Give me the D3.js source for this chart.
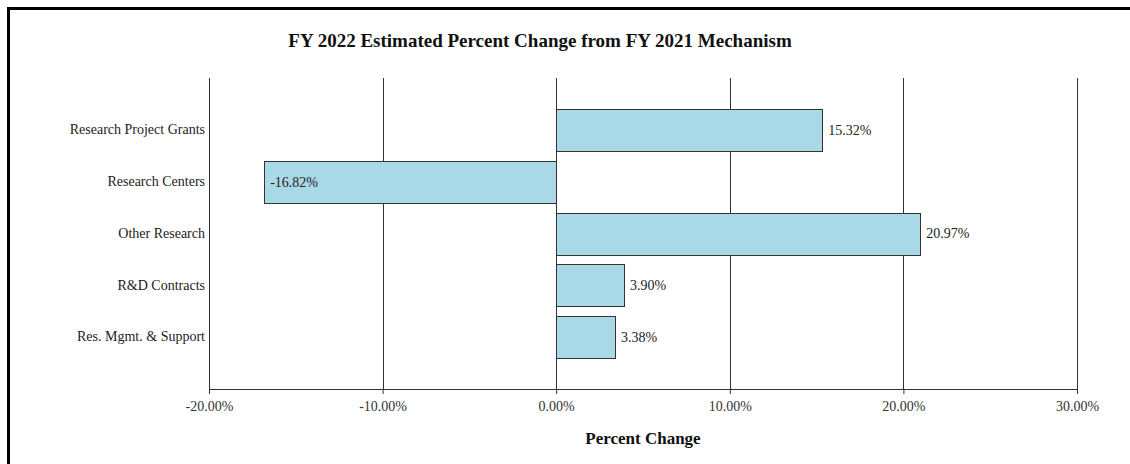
<!DOCTYPE html>
<html>
<head>
<meta charset="utf-8">
<script src="https://cdn.jsdelivr.net/npm/d3@7"></script>
<style>
  html, body { margin: 0; padding: 0; background: #fff; }
  svg { display: block; }
</style>
</head>
<body>
<svg id="chart" width="1130" height="464"></svg>
<script>
const categories = ["Research Project Grants", "Research Centers", "Other Research", "R&D Contracts", "Res. Mgmt. & Support"];
const values = [15.32, -16.82, 20.97, 3.90, 3.38];
const tickValues = [-20, -10, 0, 10, 20, 30];
const title = "FY 2022 Estimated Percent Change from FY 2021 Mechanism";
const xTitle = "Percent Change";

const svg = d3.select("#chart");
const W = 1130, H = 464;
const m = { left: 209, right: 1077, top: 78, bottom: 389 };
const font = "'Liberation Serif', 'Times New Roman', serif";

svg.append("rect").attr("x", 0).attr("y", 0).attr("width", W).attr("height", H).attr("fill", "#fff");
svg.append("line").attr("x1", 7).attr("x2", W).attr("y1", 8.5).attr("y2", 8.5).attr("stroke", "#000").attr("stroke-width", 3);
svg.append("line").attr("x1", 8.5).attr("x2", 8.5).attr("y1", 7).attr("y2", H).attr("stroke", "#000").attr("stroke-width", 3);

const x = d3.scaleLinear().domain([-20, 30]).range([m.left, m.right]);
const y = d3.scaleBand().domain(categories).range([m.top, m.bottom]).paddingInner(0.19).paddingOuter(0.6);

svg.append("g").selectAll("line").data(tickValues).join("line")
  .attr("x1", d => Math.round(x(d)) + 0.5).attr("x2", d => Math.round(x(d)) + 0.5)
  .attr("y1", m.top).attr("y2", m.bottom)
  .attr("stroke", "#333").attr("stroke-width", 1);

svg.append("g").selectAll("rect").data(values).join("rect")
  .attr("x", d => Math.round(Math.min(x(0), x(d))) + 0.5)
  .attr("y", (d, i) => Math.round(y(categories[i])) + 0.5)
  .attr("width", d => Math.round(Math.abs(x(d) - x(0))))
  .attr("height", Math.round(y.bandwidth()))
  .attr("fill", "#a9d8e6").attr("stroke", "#333").attr("stroke-width", 1);

svg.append("g").selectAll("text").data(values).join("text")
  .attr("x", d => x(d) + 6)
  .attr("y", (d, i) => y(categories[i]) + y.bandwidth() / 2)
  .attr("dy", "0.35em")
  .attr("font-family", font).attr("font-size", 14).attr("fill", "#222")
  .text(d => d.toFixed(2) + "%");

const xAxis = d3.axisBottom(x).tickValues(tickValues).tickSize(5).tickPadding(7)
  .tickFormat(d => d.toFixed(2) + "%");
const gx = svg.append("g").attr("transform", `translate(0,${m.bottom})`).call(xAxis);
gx.select(".domain").attr("stroke", "#333").attr("d", `M${m.left},0.5H${m.right}`);
gx.selectAll(".tick line").attr("stroke", "#333");
gx.selectAll(".tick text").attr("font-family", font).attr("font-size", 14).attr("fill", "#333");

const yAxis = d3.axisLeft(y).tickSize(0).tickPadding(4);
const gy = svg.append("g").attr("transform", `translate(${m.left},0)`).call(yAxis);
gy.select(".domain").remove();
gy.selectAll(".tick text").attr("font-family", font).attr("font-size", 14).attr("fill", "#222");

svg.append("text").attr("x", 540).attr("y", 47).attr("text-anchor", "middle")
  .attr("font-family", font).attr("font-weight", "bold").attr("font-size", 19).attr("fill", "#111")
  .text(title);

svg.append("text").attr("x", (m.left + m.right) / 2).attr("y", 444).attr("text-anchor", "middle")
  .attr("font-family", font).attr("font-weight", "bold").attr("font-size", 17).attr("fill", "#111")
  .text(xTitle);
</script>
</body>
</html>
